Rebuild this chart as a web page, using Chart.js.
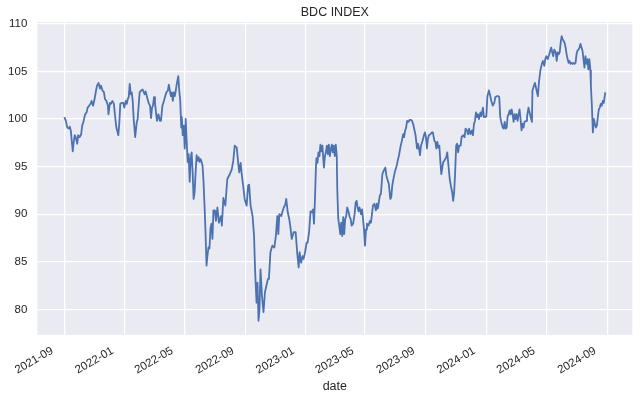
<!DOCTYPE html>
<html>
<head>
<meta charset="utf-8">
<title>BDC INDEX</title>
<script src="https://cdn.jsdelivr.net/npm/chart.js@4.4.1/dist/chart.umd.min.js"></script>
<style>
  html, body { margin: 0; padding: 0; background: #ffffff; }
  canvas { display: block; }
</style>
</head>
<body>
<canvas id="bdcChart" width="640" height="401"></canvas>
<script>
// Index level
const dates = [
  '2021-09-01','2021-09-04','2021-09-07','2021-09-10','2021-09-12','2021-09-14','2021-09-16','2021-09-18','2021-09-20','2021-09-22','2021-09-24','2021-09-27','2021-09-29',
  '2021-10-02','2021-10-05','2021-10-07','2021-10-10','2021-10-13','2021-10-16','2021-10-18','2021-10-21','2021-10-24','2021-10-26','2021-10-29',
  '2021-11-01','2021-11-04','2021-11-06','2021-11-09','2021-11-12','2021-11-14','2021-11-17','2021-11-20','2021-11-22','2021-11-25','2021-11-28','2021-11-29',
  '2021-12-02','2021-12-04','2021-12-07','2021-12-10','2021-12-12','2021-12-15','2021-12-19','2021-12-21','2021-12-23','2021-12-26','2021-12-29','2021-12-31',
  '2022-01-03','2022-01-05','2022-01-07','2022-01-09','2022-01-11','2022-01-13','2022-01-15','2022-01-17','2022-01-19','2022-01-22','2022-01-25','2022-01-27','2022-01-31',
  '2022-02-03','2022-02-06','2022-02-10','2022-02-12','2022-02-15','2022-02-18','2022-02-21','2022-02-23','2022-02-25','2022-02-27',
  '2022-03-01','2022-03-03','2022-03-05','2022-03-07','2022-03-10','2022-03-13','2022-03-15','2022-03-18','2022-03-21','2022-03-23','2022-03-26','2022-03-29','2022-03-31',
  '2022-04-02','2022-04-04','2022-04-06','2022-04-08','2022-04-10','2022-04-12','2022-04-14','2022-04-16','2022-04-19','2022-04-21','2022-04-23','2022-04-25','2022-04-26','2022-04-28','2022-04-30',
  '2022-05-02','2022-05-04','2022-05-06','2022-05-08','2022-05-10','2022-05-12','2022-05-14','2022-05-16','2022-05-18','2022-05-20','2022-05-22','2022-05-24','2022-05-26','2022-05-28','2022-05-30',
  '2022-06-01','2022-06-03','2022-06-05','2022-06-07','2022-06-09','2022-06-11','2022-06-13','2022-06-15','2022-06-17','2022-06-19','2022-06-21','2022-06-23','2022-06-25','2022-06-27','2022-06-29',
  '2022-07-02','2022-07-04','2022-07-07','2022-07-10','2022-07-14','2022-07-16','2022-07-19','2022-07-23','2022-07-27',
  '2022-08-01','2022-08-05','2022-08-08','2022-08-11','2022-08-15','2022-08-18','2022-08-20','2022-08-23','2022-08-25','2022-08-28','2022-08-31',
  '2022-09-04','2022-09-07','2022-09-09','2022-09-12','2022-09-16','2022-09-19','2022-09-21','2022-09-24','2022-09-26','2022-09-28','2022-09-30',
  '2022-10-02','2022-10-05','2022-10-08','2022-10-11','2022-10-14','2022-10-17','2022-10-19','2022-10-22','2022-10-26','2022-10-30',
  '2022-11-02','2022-11-05','2022-11-07','2022-11-09','2022-11-13','2022-11-15','2022-11-18','2022-11-21','2022-11-23','2022-11-26','2022-11-29',
  '2022-12-02','2022-12-04','2022-12-08','2022-12-12','2022-12-15','2022-12-18','2022-12-20','2022-12-23','2022-12-26','2022-12-28','2022-12-31',
  '2023-01-03','2023-01-05','2023-01-08','2023-01-11','2023-01-14','2023-01-16','2023-01-18','2023-01-20','2023-01-22','2023-01-23','2023-01-25','2023-01-27','2023-01-29','2023-01-31',
  '2023-02-02','2023-02-04','2023-02-07','2023-02-09','2023-02-11','2023-02-13','2023-02-15','2023-02-17','2023-02-19','2023-02-21','2023-02-23','2023-02-25','2023-02-27',
  '2023-03-01','2023-03-03','2023-03-05','2023-03-06','2023-03-08','2023-03-10','2023-03-12','2023-03-14','2023-03-16','2023-03-18','2023-03-20','2023-03-22','2023-03-24','2023-03-26','2023-03-29','2023-03-31',
  '2023-04-02','2023-04-04','2023-04-07','2023-04-10','2023-04-12','2023-04-14','2023-04-16','2023-04-18','2023-04-20','2023-04-23','2023-04-25','2023-04-27','2023-04-29',
  '2023-05-01','2023-05-03','2023-05-05','2023-05-08','2023-05-11','2023-05-13','2023-05-17','2023-05-20','2023-05-23','2023-05-25','2023-05-27','2023-05-29','2023-05-31',
  '2023-06-02','2023-06-05','2023-06-08','2023-06-11','2023-06-13','2023-06-15','2023-06-18','2023-06-21','2023-06-23','2023-06-25','2023-06-28',
  '2023-07-01','2023-07-04','2023-07-06','2023-07-09','2023-07-12','2023-07-14','2023-07-17','2023-07-19','2023-07-21','2023-07-23','2023-07-25','2023-07-28','2023-07-30',
  '2023-08-02','2023-08-04','2023-08-06','2023-08-09','2023-08-11','2023-08-14','2023-08-16','2023-08-18','2023-08-20','2023-08-22','2023-08-25','2023-08-28','2023-08-30',
  '2023-09-01','2023-09-03','2023-09-05','2023-09-07','2023-09-10','2023-09-13','2023-09-15','2023-09-18','2023-09-20','2023-09-22','2023-09-24','2023-09-26','2023-09-28','2023-09-30',
  '2023-10-02','2023-10-04','2023-10-06','2023-10-08','2023-10-10','2023-10-12','2023-10-14','2023-10-17','2023-10-19','2023-10-22','2023-10-24','2023-10-26','2023-10-28','2023-10-30',
  '2023-11-01','2023-11-03','2023-11-05','2023-11-07','2023-11-10','2023-11-12','2023-11-15','2023-11-18','2023-11-20','2023-11-23','2023-11-25','2023-11-27','2023-11-30',
  '2023-12-03','2023-12-05','2023-12-07','2023-12-09','2023-12-11','2023-12-13','2023-12-15','2023-12-17','2023-12-20','2023-12-22','2023-12-25','2023-12-27','2023-12-29',
  '2024-01-01','2024-01-03','2024-01-06','2024-01-08','2024-01-11','2024-01-14','2024-01-17','2024-01-19','2024-01-22','2024-01-25','2024-01-27','2024-01-29','2024-01-31',
  '2024-02-03','2024-02-05','2024-02-07','2024-02-09','2024-02-11','2024-02-13','2024-02-15','2024-02-17','2024-02-19','2024-02-21','2024-02-23','2024-02-25','2024-02-27','2024-02-29',
  '2024-03-02','2024-03-04','2024-03-06','2024-03-08','2024-03-10','2024-03-12','2024-03-14','2024-03-16','2024-03-18','2024-03-21','2024-03-23','2024-03-26','2024-03-30',
  '2024-04-02','2024-04-03','2024-04-06','2024-04-08','2024-04-11','2024-04-14','2024-04-16','2024-04-19','2024-04-22','2024-04-24','2024-04-27','2024-04-29',
  '2024-05-01','2024-05-04','2024-05-07','2024-05-09','2024-05-11','2024-05-13','2024-05-15','2024-05-17','2024-05-20','2024-05-22','2024-05-24','2024-05-26','2024-05-28','2024-05-30',
  '2024-06-01','2024-06-03','2024-06-05','2024-06-07','2024-06-09','2024-06-11','2024-06-13','2024-06-15','2024-06-17','2024-06-19','2024-06-21','2024-06-23','2024-06-25','2024-06-27','2024-06-29',
  '2024-07-01','2024-07-03','2024-07-05','2024-07-07','2024-07-09','2024-07-11','2024-07-13','2024-07-15','2024-07-17','2024-07-19','2024-07-21','2024-07-23','2024-07-25','2024-07-27','2024-07-29','2024-07-30',
  '2024-08-01','2024-08-02','2024-08-03','2024-08-05','2024-08-07','2024-08-09','2024-08-11','2024-08-13','2024-08-15','2024-08-17','2024-08-19','2024-08-21','2024-08-23','2024-08-25','2024-08-27','2024-08-28'
];

const values = [
  100.2, 99.8, 99.1, 99.0, 99.2, 98.8, 97.7, 96.6, 97.6, 98.3, 98.1, 97.4, 98.3,
  98.1, 98.4, 99.3, 99.8, 100.5, 100.7, 101.2, 101.4, 101.6, 101.9, 101.4,
  102.1, 103.0, 103.5, 103.8, 103.2, 103.5, 103.0, 102.8, 102.1, 101.9, 101.4, 100.5,
  101.7, 101.6, 101.9, 101.6, 100.5, 99.1, 98.3, 99.6, 101.6, 101.7, 101.7, 101.2,
  101.9, 101.6, 102.1, 102.3, 103.7, 102.6, 102.8, 101.9, 100.0, 98.1, 99.6, 100.0, 102.8,
  103.0, 103.1, 102.6, 102.9, 102.3, 101.7, 101.4, 100.1, 101.2, 101.4,
  102.3, 101.7, 100.7, 99.8, 100.5, 99.8, 99.8, 101.4, 101.9, 102.3, 102.8, 103.0, 103.6,
  103.0, 102.4, 102.8, 101.9, 102.8, 102.4, 103.0, 103.7, 104.5, 103.0, 101.9, 99.1, 100.2, 98.3, 99.3,
  96.9, 100.0, 97.6, 95.5, 96.3, 93.4, 95.8, 96.5, 94.4, 91.6, 92.3, 94.4, 96.2, 95.6, 96.0,
  95.5, 95.8, 95.5, 95.1, 93.4, 90.9, 88.1, 84.6, 85.7, 86.5, 86.4, 88.5, 89.0, 87.4, 90.4,
  90.4, 89.3, 90.7, 89.1, 89.8, 88.8, 91.7, 90.9, 93.7,
  94.2, 94.7, 95.6, 97.2, 97.0, 95.4, 94.4, 95.4, 94.2, 93.0, 91.6,
  90.9, 93.0, 93.1, 90.9, 89.8, 87.7, 84.2, 80.7, 82.8, 78.8, 80.0,
  84.2, 81.4, 79.7, 81.8, 82.5, 83.2, 83.2, 86.0, 86.7, 86.5,
  87.7, 89.8, 87.9, 90.0, 89.8, 90.2, 90.7, 91.0, 91.6, 90.2, 89.5,
  88.4, 87.4, 88.1, 88.1, 86.0, 84.4, 86.0, 84.9, 85.6, 85.3, 86.0,
  87.0, 87.0, 88.1, 90.3, 90.2, 90.5, 89.0, 91.6, 95.1, 95.9, 95.4, 96.5, 96.1, 97.3,
  96.6, 97.2, 94.9, 96.1, 96.5, 97.2, 96.3, 97.3, 96.1, 96.8, 97.3, 96.5, 97.2,
  96.1, 97.3, 96.1, 92.6, 89.5, 88.8, 87.9, 89.1, 87.7, 89.7, 87.9, 89.5, 89.8, 90.7, 90.2, 89.7,
  89.5, 88.8, 89.0, 90.0, 91.2, 91.4, 90.7, 90.3, 90.7, 90.0, 90.5, 89.5, 88.4,
  86.7, 88.4, 89.0, 88.8, 89.3, 89.1, 90.9, 91.1, 90.4, 91.1, 90.6, 91.3, 92.0,
  92.1, 94.2, 94.6, 94.9, 94.1, 93.7, 93.2, 91.6, 91.8, 93.0, 93.9,
  94.6, 95.1, 95.6, 96.3, 97.2, 97.6, 98.4, 98.1, 98.8, 99.1, 99.8, 99.7, 99.9,
  99.9, 99.8, 99.5, 98.8, 98.3, 96.9, 97.4, 96.9, 96.2, 97.2, 97.7, 98.3, 98.6,
  98.1, 96.9, 97.9, 98.3, 98.4, 98.6, 98.6, 97.7, 97.6, 96.9, 97.6, 97.0, 97.2, 95.6,
  94.2, 94.9, 95.5, 95.6, 95.8, 96.0, 96.5, 94.8, 93.7, 92.8, 92.3, 91.4, 92.3, 94.4,
  97.2, 97.4, 96.5, 97.2, 97.2, 98.1, 98.3, 98.1, 99.0, 98.8, 98.4, 99.0, 98.4,
  98.8, 98.3, 99.5, 99.8, 100.7, 100.2, 100.5, 100.0, 100.7, 100.3, 101.2, 100.2, 100.2,
  100.3, 102.4, 103.0, 102.6, 101.9, 101.4, 101.7, 102.3, 102.4, 102.4, 102.3, 100.2, 99.7,
  99.1, 99.0, 99.7, 99.0, 99.1, 100.3, 100.5, 100.9, 100.5, 101.0, 100.5, 99.7, 100.5, 100.0,
  100.5, 99.8, 100.5, 101.0, 100.0, 98.8, 99.5, 99.1, 99.7, 99.8, 100.2, 101.2, 100.3,
  99.7, 103.0, 103.5, 103.8, 103.1, 102.4, 103.8, 105.1, 105.8, 106.1, 105.6, 106.3,
  106.6, 106.3, 106.8, 107.2, 107.5, 107.0, 106.6, 107.3, 107.0, 106.1, 107.0, 106.8, 107.0, 108.0,
  108.7, 108.4, 108.2, 108.0, 107.5, 106.8, 106.3, 105.9, 106.1, 105.8, 105.9, 105.8, 105.9, 105.8, 105.9,
  106.8, 107.2, 107.3, 107.5, 107.9, 107.5, 107.2, 106.3, 105.4, 106.6, 105.8, 106.3, 105.2, 106.3, 105.1, 103.5,
  101.4, 100.0, 98.6, 100.0, 99.5, 99.1, 99.3, 100.2, 101.0, 101.2, 101.6, 101.4, 101.9, 101.7, 102.4, 102.8
];

const xTickLabels = ['2021-09', '2022-01', '2022-05', '2022-09', '2023-01', '2023-05', '2023-09', '2024-01', '2024-05', '2024-09'];
const yTicks = [80, 85, 90, 95, 100, 105, 110];
const chartTitle = 'BDC INDEX';
const xAxisTitle = 'date';

const FONT = '"Liberation Sans", Arial, Helvetica, sans-serif';
const TEXT = '#262626';

// dates as UTC timestamps on a linear axis (no date adapter available)
const points = dates.map((d, i) => ({ x: Date.parse(d), y: values[i] }));

// matplotlib style 5% margins around the data
const xs = points.map(p => p.x);
const xLo = Math.min(...xs), xHi = Math.max(...xs);
const yLo = Math.min(...values), yHi = Math.max(...values);
const xPad = (xHi - xLo) * 0.05;
const yPad = (yHi - yLo) * 0.05;

const monthLabel = (ms) => {
    const d = new Date(ms);
    return d.getUTCFullYear() + '-' + String(d.getUTCMonth() + 1).padStart(2, '0');
};

// grey plotting area behind the grid
const backdrop = {
    id: 'backdrop',
    beforeDraw(chart) {
        const { ctx, chartArea: a } = chart;
        ctx.save();
        ctx.fillStyle = '#EAEAF2';
        ctx.fillRect(a.left, a.top, a.right - a.left, a.bottom - a.top);
        ctx.restore();
    }
};

// title centred over the axes, not over the whole canvas
const plotTitle = {
    id: 'plotTitle',
    afterDraw(chart) {
        const { ctx, chartArea: a } = chart;
        ctx.save();
        ctx.font = '12.5px ' + FONT;
        ctx.fillStyle = TEXT;
        ctx.textAlign = 'center';
        ctx.textBaseline = 'alphabetic';
        ctx.fillText(chartTitle, (a.left + a.right) / 2, a.top - 6);
        ctx.restore();
    }
};

new Chart(document.getElementById('bdcChart'), {
    type: 'line',
    data: {
        datasets: [{
            label: chartTitle,
            data: points,
            borderColor: '#4C72B0',
            borderWidth: 1.8,
            borderJoinStyle: 'round',
            pointRadius: 0,
            tension: 0,
            fill: false
        }]
    },
    options: {
        responsive: false,
        animation: false,
        devicePixelRatio: 1,
        layout: { padding: { top: 22, right: 7.7, bottom: 0, left: 0 } },
        plugins: {
            legend: { display: false },
            tooltip: { enabled: false },
            title: { display: false }
        },
        scales: {
            x: {
                type: 'linear',
                min: xLo - xPad,
                max: xHi + xPad,
                afterBuildTicks: (scale) => {
                    scale.ticks = xTickLabels.map(l => ({ value: Date.parse(l + '-01') }));
                },
                afterFit: (scale) => { scale.height = 66; },
                grid: { color: '#ffffff', lineWidth: 1.2, drawTicks: false },
                border: { display: false },
                ticks: {
                    autoSkip: false,
                    minRotation: 30,
                    maxRotation: 30,
                    padding: 9,
                    labelOffset: -12,
                    color: TEXT,
                    font: { family: FONT, size: 11.5 },
                    callback: (v) => monthLabel(v)
                },
                title: {
                    display: true,
                    text: xAxisTitle,
                    color: TEXT,
                    font: { family: FONT, size: 12.5 },
                    padding: { top: 0, bottom: 7 }
                }
            },
            y: {
                type: 'linear',
                min: yLo - yPad,
                max: yHi + yPad,
                afterBuildTicks: (scale) => {
                    scale.ticks = yTicks.map(v => ({ value: v }));
                },
                afterFit: (scale) => { scale.width = 37.3; },
                grid: { color: '#ffffff', lineWidth: 1.2, drawTicks: false },
                border: { display: false },
                ticks: {
                    padding: 10,
                    color: TEXT,
                    font: { family: FONT, size: 11.5 }
                }
            }
        }
    },
    plugins: [backdrop, plotTitle]
});
</script>
</body>
</html>
